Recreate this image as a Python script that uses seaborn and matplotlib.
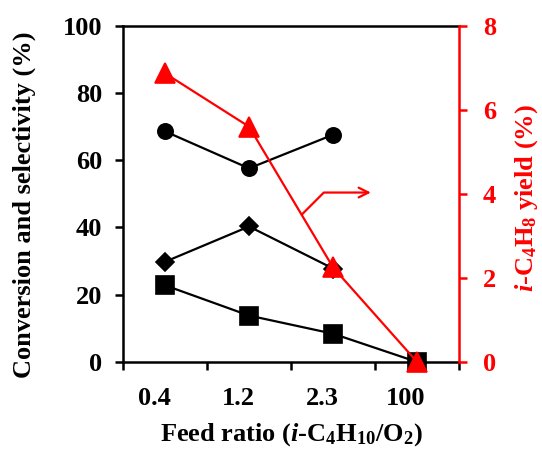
import matplotlib
matplotlib.use("Agg")
import matplotlib.pyplot as plt
import matplotlib.transforms as mtransforms
import seaborn as sns

# ---- data ----
feed_ratio = ["0.4", "1.2", "2.3", "100"]
conversion_circle = [68.6, 57.6, 67.6]           # only first three ratios
selectivity_diamond = [29.8, 40.3, 27.8]         # only first three ratios
square_series = [22.8, 13.8, 8.4, 0.0]
yield_triangle = [6.87, 5.6, 2.25, 0.0]          # right axis (%)

left_ticks = [0, 20, 40, 60, 80, 100]
right_ticks = [0, 2, 4, 6, 8]

sns.set_style("ticks")
plt.rcParams["font.family"] = ["Liberation Serif", "DejaVu Serif"]
plt.rcParams["font.weight"] = "bold"
plt.rcParams["text.color"] = "black"
plt.rcParams["axes.labelcolor"] = "black"
plt.rcParams["xtick.color"] = "black"
plt.rcParams["ytick.color"] = "black"
plt.rcParams["mathtext.fontset"] = "custom"
plt.rcParams["mathtext.rm"] = "Liberation Serif:bold"
plt.rcParams["mathtext.it"] = "Liberation Serif:italic:bold"
plt.rcParams["mathtext.bf"] = "Liberation Serif:bold"

FS = 19

fig = plt.figure(figsize=(5.42, 4.53), dpi=100)
ax = fig.add_axes([0.227, 0.201, 0.620, 0.742])
ax2 = ax.twinx()

common = dict(order=feed_ratio, errorbar=None, linewidth=1.6, clip_on=False)
sns.pointplot(x=feed_ratio[:3], y=conversion_circle, color="black", markers="o",
              markersize=11, ax=ax, **common)
sns.pointplot(x=feed_ratio[:3], y=selectivity_diamond, color="black", markers="D",
              markersize=9.5, ax=ax, **common)
sns.pointplot(x=feed_ratio, y=square_series, color="black", markers="s",
              markersize=13, ax=ax, **common)
sns.pointplot(x=feed_ratio, y=yield_triangle, color="red", markers="^",
              markersize=14.5, ax=ax2, **common)

n = len(feed_ratio)
for a in (ax, ax2):
    a.set_xlim(-0.5, n - 0.5)
    a.grid(False)

ax.set_ylim(0, 100)
ax2.set_ylim(0, 8)
ax.set_yticks(left_ticks)
ax2.set_yticks(right_ticks)

# x ticks: marks at category boundaries, labels centred
ax.set_xticks([i - 0.5 for i in range(n + 1)])
ax.set_xticklabels([])
ax.set_xticks(range(n), minor=True)
ax.set_xticklabels(feed_ratio, minor=True)
ax.tick_params(axis="x", which="major", direction="out", length=6, width=1.8)
ax.tick_params(axis="x", which="minor", length=0, pad=18, labelsize=FS)
for lab in ax.get_xticklabels(minor=True):
    lab.set_transform(lab.get_transform() + mtransforms.ScaledTranslation(-11 / 100, 0, fig.dpi_scale_trans))

ax.tick_params(axis="y", direction="out", length=6, width=1.8, pad=9, labelsize=FS)
ax2.tick_params(axis="y", direction="out", length=6, width=1.8, pad=11, labelsize=FS,
                colors="red")

for s in ["left", "bottom", "top"]:
    ax.spines[s].set_visible(True)
    ax.spines[s].set_linewidth(1.8)
    ax.spines[s].set_color("black")
ax.spines["right"].set_visible(False)
for s in ["left", "bottom", "top"]:
    ax2.spines[s].set_visible(False)
ax2.spines["right"].set_visible(True)
ax2.spines["right"].set_color("red")
ax2.spines["right"].set_linewidth(1.8)

ax.set_xlabel(r"Feed ratio ($\it{i}$-C$_{4}$H$_{10}$/O$_{2}$)", fontsize=FS,
              fontweight="bold", labelpad=8)
ax.set_ylabel("Conversion and selectivity (%)", fontsize=FS, fontweight="bold")
ax.yaxis.set_label_coords(-0.259, 0.467)
ax2.set_ylabel(r"$\it{i}$-C$_{4}$H$_{8}$ yield (%)", fontsize=FS, fontweight="bold",
               color="red", rotation=90)
ax2.yaxis.set_label_coords(1.161, 0.488)

# arrow indicating the right axis series
ax.annotate("", xy=(2.45, 50.4), xytext=(1.63, 43.9),
            arrowprops=dict(arrowstyle="->,head_length=0.7,head_width=0.35", color="red",
                            lw=1.6, shrinkA=0, shrinkB=0,
                            connectionstyle="angle,angleA=45,angleB=0,rad=0"))

fig.savefig("out.png", dpi=100)
